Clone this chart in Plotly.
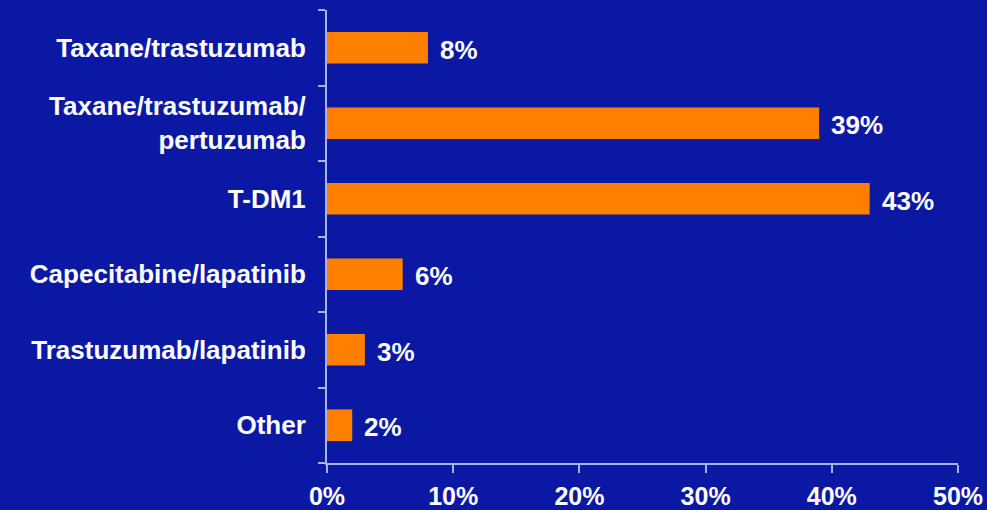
import plotly.graph_objects as go

categories = ["Taxane/trastuzumab", "Taxane/trastuzumab/<br>pertuzumab", "T-DM1",
              "Capecitabine/lapatinib", "Trastuzumab/lapatinib", "Other"]
values = [8, 39, 43, 6, 3, 2]
x_ticks = [0, 10, 20, 30, 40, 50]
x_tick_labels = ["0%", "10%", "20%", "30%", "40%", "50%"]

BG = "#0b18a3"
BAR = "#ff8000"
AXIS = "#a9b1ee"
FONT = "Liberation Sans, Arial, sans-serif"

fig = go.Figure()
fig.add_trace(go.Bar(
    x=values, y=categories, orientation="h",
    marker=dict(color=BAR, line=dict(width=0)),
    hoverinfo="skip",
))
for c, v in zip(categories, values):
    fig.add_annotation(x=v, y=c, text=f"<b>{v}%</b>", showarrow=False,
                       xanchor="left", xshift=10, yshift=-2,
                       font=dict(family=FONT, size=26, color="white"))

fig.update_layout(
    width=987, height=510,
    margin=dict(l=327, r=29, t=10, b=47, autoexpand=False),
    paper_bgcolor=BG, plot_bgcolor=BG,
    bargap=0.58, showlegend=False,
    font=dict(family=FONT, color="white"),
)
fig.update_xaxes(
    range=[0, 50], tickvals=x_ticks, ticktext=[f"<b>{t}</b>" for t in x_tick_labels],
    showgrid=False, zeroline=False, showline=True, linecolor=AXIS, linewidth=2,
    ticks="outside", ticklen=8, tickcolor=AXIS, tickwidth=2,
    ticklabelstandoff=2, automargin=False,
    tickfont=dict(family=FONT, size=25, color="white"),
)
fig.update_yaxes(
    categoryorder="array", categoryarray=categories, autorange="reversed",
    tickvals=categories, ticktext=[f"<b>{c}</b>" for c in categories],
    tickson="boundaries",
    showgrid=False, zeroline=False, showline=True, linecolor=AXIS, linewidth=2,
    ticks="outside", ticklen=7, tickcolor=AXIS, tickwidth=2,
    ticklabelstandoff=14, automargin=False,
    tickfont=dict(family=FONT, size=26, color="white"),
)
fig.write_html("out.html")
